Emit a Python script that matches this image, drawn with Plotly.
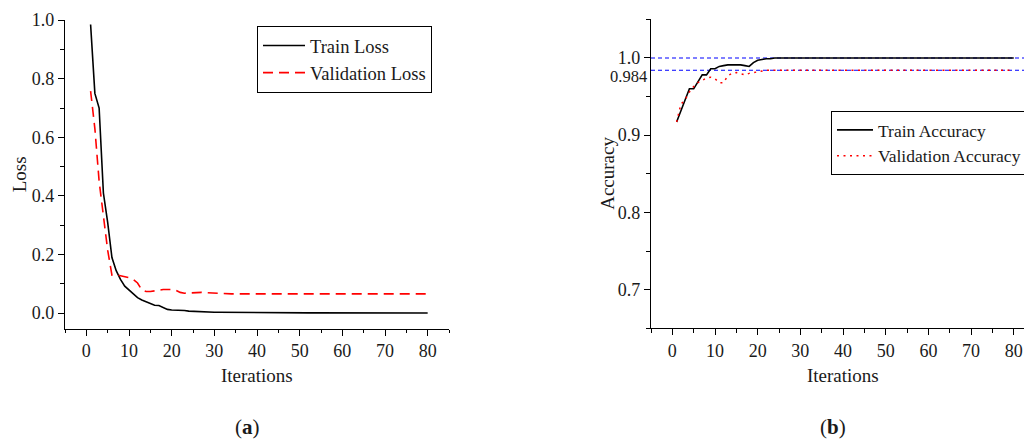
import plotly.graph_objects as go

# ---------------- data ----------------
iterations = list(range(1, 81))

train_loss = [0.985, 0.750, 0.700, 0.410, 0.310, 0.190, 0.145, 0.115, 0.092, 0.078,
              0.065, 0.053, 0.045, 0.039, 0.034, 0.027, 0.026, 0.019, 0.013, 0.011,
              0.011, 0.010, 0.009, 0.007, 0.006, 0.005, 0.0045, 0.004, 0.0035, 0.003,
              0.003, 0.0028, 0.0026, 0.0025, 0.0024, 0.0022, 0.0021, 0.0020, 0.0019, 0.0018,
              0.0017, 0.0016, 0.0015, 0.0015, 0.0014, 0.0014, 0.0013, 0.0013, 0.0012, 0.0012,
              0.0012, 0.0011, 0.0011, 0.0011, 0.0011, 0.0010, 0.0010, 0.0010, 0.0010, 0.0010,
              0.0010, 0.0009, 0.0009, 0.0009, 0.0009, 0.0009, 0.0009, 0.0009, 0.0009, 0.0008,
              0.0008, 0.0008, 0.0008, 0.0008, 0.0008, 0.0008, 0.0008, 0.0008, 0.0008, 0.0008]

val_loss = [0.758, 0.630, 0.450, 0.330, 0.215, 0.130, 0.131, 0.128, 0.125, 0.121,
            0.115, 0.103, 0.080, 0.074, 0.074, 0.075, 0.078, 0.081, 0.082, 0.081,
            0.078, 0.071, 0.068, 0.069, 0.071, 0.071, 0.071, 0.070, 0.069, 0.068,
            0.068, 0.067, 0.067, 0.066, 0.066, 0.066, 0.066, 0.066, 0.066, 0.066,
            0.066, 0.066, 0.066, 0.066, 0.066, 0.066, 0.066, 0.066, 0.066, 0.066,
            0.066, 0.066, 0.066, 0.066, 0.066, 0.066, 0.066, 0.066, 0.066, 0.066,
            0.066, 0.066, 0.066, 0.066, 0.066, 0.066, 0.066, 0.066, 0.066, 0.066,
            0.066, 0.066, 0.066, 0.066, 0.066, 0.066, 0.066, 0.066, 0.066, 0.066]

train_acc = [0.917, 0.931, 0.945, 0.960, 0.960, 0.970, 0.978, 0.978, 0.986, 0.986,
             0.989, 0.990, 0.991, 0.991, 0.991, 0.991, 0.990, 0.989, 0.994, 0.997,
             0.998, 0.999, 0.999, 1.000, 1.000, 1.000, 1.000, 1.000, 1.000, 1.000,
             1.000, 1.000, 1.000, 1.000, 1.000, 1.000, 1.000, 1.000, 1.000, 1.000,
             1.000, 1.000, 1.000, 1.000, 1.000, 1.000, 1.000, 1.000, 1.000, 1.000,
             1.000, 1.000, 1.000, 1.000, 1.000, 1.000, 1.000, 1.000, 1.000, 1.000,
             1.000, 1.000, 1.000, 1.000, 1.000, 1.000, 1.000, 1.000, 1.000, 1.000,
             1.000, 1.000, 1.000, 1.000, 1.000, 1.000, 1.000, 1.000, 1.000, 1.000]

val_acc = [0.917, 0.940, 0.946, 0.956, 0.963, 0.968, 0.971, 0.974, 0.975, 0.973,
           0.968, 0.968, 0.977, 0.980, 0.981, 0.980, 0.978, 0.980, 0.981, 0.982,
           0.983, 0.984, 0.984, 0.984, 0.984, 0.984, 0.984, 0.984, 0.984, 0.984,
           0.984, 0.984, 0.984, 0.984, 0.984, 0.984, 0.984, 0.984, 0.984, 0.984,
           0.984, 0.984, 0.984, 0.984, 0.984, 0.984, 0.984, 0.984, 0.984, 0.984,
           0.984, 0.984, 0.984, 0.984, 0.984, 0.984, 0.984, 0.984, 0.984, 0.984,
           0.984, 0.984, 0.984, 0.984, 0.984, 0.984, 0.984, 0.984, 0.984, 0.984,
           0.984, 0.984, 0.984, 0.984, 0.984, 0.984, 0.984, 0.984, 0.984, 0.984]

ref_levels = [1.0, 0.984]
x_ticks = [0, 10, 20, 30, 40, 50, 60, 70, 80]
loss_ticks = [0.0, 0.2, 0.4, 0.6, 0.8, 1.0]
acc_ticks = [0.7, 0.8, 0.9, 1.0]
acc_tick_text = ["0.7", "0.8", "0.9", "1.0"]

# ---------------- figure ----------------
W, H = 1024, 441
FONT = "Liberation Serif, Times New Roman, serif"
TXT = "#1a1a1a"

fig = go.Figure()

fig.add_trace(go.Scatter(x=iterations, y=train_loss, mode="lines", name="Train Loss",
                         line=dict(color="black", width=1.6), xaxis="x", yaxis="y",
                         legend="legend"))
fig.add_trace(go.Scatter(x=iterations, y=val_loss, mode="lines", name="Validation Loss",
                         line=dict(color="#ff0000", width=1.6, dash="10px,6px"),
                         xaxis="x", yaxis="y", legend="legend"))

fig.add_trace(go.Scatter(x=iterations, y=train_acc, mode="lines", name="Train Accuracy",
                         line=dict(color="black", width=1.6), xaxis="x2", yaxis="y2",
                         legend="legend2"))
fig.add_trace(go.Scatter(x=iterations, y=val_acc, mode="lines", name="Validation Accuracy",
                         line=dict(color="#ff0000", width=1.5, dash="2px,4.5px"),
                         xaxis="x2", yaxis="y2", legend="legend2"))

for lvl in ref_levels:
    fig.add_shape(type="line", xref="x2 domain", yref="y2", x0=0, x1=1, y0=lvl, y1=lvl,
                  line=dict(color="#0000ff", width=1.1, dash="4px,3px"), layer="below")

axis_common = dict(showline=True, linecolor="black", linewidth=1.3, ticks="outside",
                   ticklen=6, tickwidth=1.1, tickcolor="black", showgrid=False,
                   zeroline=False, automargin=False,
                   tickfont=dict(family=FONT, size=18, color=TXT))

def px2x(p):
    return p / W

def py2y(p):
    return 1 - p / H

fig.update_layout(
    width=W, height=H, autosize=False,
    margin=dict(l=0, r=0, t=0, b=0, autoexpand=False),
    paper_bgcolor="white", plot_bgcolor="white",
    font=dict(family=FONT, color=TXT),
    xaxis=dict(domain=[px2x(65), px2x(449)], range=[-5, 85], anchor="y",
               tickvals=x_ticks,
               minor=dict(dtick=5, tick0=0, ticks="outside", ticklen=3.5,
                          tickcolor="black", tickwidth=1.1),
               **axis_common),
    yaxis=dict(domain=[py2y(328.7), py2y(20)], range=[-0.053, 1.0005], anchor="x",
               tickvals=loss_ticks, ticktext=[f"{v:.1f}" for v in loss_ticks],
               minor=dict(dtick=0.1, tick0=0, ticks="outside", ticklen=3.5,
                          tickcolor="black", tickwidth=1.1),
               **axis_common),
    xaxis2=dict(domain=[px2x(651), 1.0], range=[-5, 82.4], anchor="y2",
                tickvals=x_ticks,
                minor=dict(dtick=5, tick0=0, ticks="outside", ticklen=3.5,
                           tickcolor="black", tickwidth=1.1),
                **axis_common),
    yaxis2=dict(domain=[py2y(328.3), py2y(19.3)], range=[0.65, 1.05], anchor="x2",
                tickvals=acc_ticks, ticktext=acc_tick_text,
                minor=dict(tickvals=[0.65, 0.75, 0.85, 0.95, 1.05], ticks="outside",
                           ticklen=3.5, tickcolor="black", tickwidth=1.1),
                **axis_common),
    legend=dict(x=px2x(257), y=py2y(26), xanchor="left", yanchor="top",
                bordercolor="black", borderwidth=1, bgcolor="white",
                font=dict(family=FONT, size=18.5, color=TXT),
                itemwidth=42, tracegroupgap=0),
    legend2=dict(x=px2x(831), y=py2y(111), xanchor="left", yanchor="top",
                 bordercolor="black", borderwidth=1, bgcolor="white",
                 font=dict(family=FONT, size=17.5, color=TXT),
                 itemwidth=36, tracegroupgap=0),
    showlegend=True,
)

annos = [
    dict(text="Loss", xref="paper", yref="y domain", x=px2x(19), y=0.5, textangle=-90,
         font=dict(size=19)),
    dict(text="Accuracy", xref="paper", yref="y2 domain", x=px2x(608), y=0.5, textangle=-90,
         font=dict(size=19)),
    dict(text="Iterations", xref="x", yref="paper", x=40, y=py2y(375), font=dict(size=19)),
    dict(text="Iterations", xref="x2", yref="paper", x=40, y=py2y(375), font=dict(size=19)),
    dict(text="0.984", xref="paper", yref="y2", x=px2x(649), xanchor="right", y=0.984,
         yshift=-6, font=dict(size=16.5)),
    dict(text="(<b>a</b>)", xref="paper", yref="paper", x=px2x(247), y=py2y(427),
         font=dict(size=21)),
    dict(text="(<b>b</b>)", xref="paper", yref="paper", x=px2x(833), y=py2y(427),
         font=dict(size=21)),
]
for a in annos:
    a.setdefault("showarrow", False)
    a.setdefault("xanchor", "center")
    a.setdefault("yanchor", "middle")
    a["font"] = dict(family=FONT, color=TXT, **a["font"])
    fig.add_annotation(**a)

fig.write_html("out.html",
               config={"displayModeBar": False},
               post_script="document.body.style.margin='0';document.body.style.overflow='hidden';")
